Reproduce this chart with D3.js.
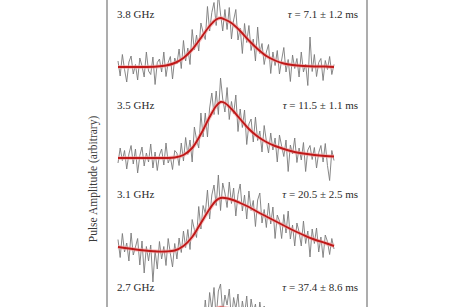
<html>
<head>
<script src="https://d3js.org/d3.v7.min.js"></script>
<style>
  body { margin: 0; background: #fff; }
  text { font-family: "Liberation Serif", "DejaVu Serif", serif; }
</style>
</head>
<body>
<script>
// panel labels
var freqs = ["3.8 GHz", "3.5 GHz", "3.1 GHz", "2.7 GHz"]
var tauVals = ["7.1 \u00b1 1.2", "11.5 \u00b1 1.1", "20.5 \u00b1 2.5", "37.4 \u00b1 8.6"]

// measured pulse amplitude, one sample per ms (0..99)
var sig38 = [0.12,-0.18,0.25,-0.05,-0.30,0.10,0.22,-0.14,0.05,-0.26,
  0.18,0.02,-0.20,0.30,-0.08,-0.15,0.20,-0.35,0.09,0.16,
  -0.10,0.30,-0.19,0.09,0.21,-0.24,0.18,0.06,0.36,-0.03,
  0.53,0.12,0.38,0.05,0.75,0.34,0.64,0.32,0.88,0.69,
  0.55,1.21,0.72,1.09,1.29,0.83,1.47,1.06,0.72,1.15,
  0.75,1.19,0.56,0.94,1.15,0.54,0.78,0.27,0.87,0.49,
  0.83,0.33,0.56,0.12,0.80,0.27,0.47,0.05,0.30,0.45,
  -0.13,0.30,0.03,0.33,-0.14,0.14,0.39,-0.10,0.15,-0.29,
  0.24,-0.03,0.17,-0.20,0.30,-0.10,0.06,-0.37,0.60,-0.09,
  0.25,-0.19,0.09,0.17,-0.27,0.13,-0.05,0.21,-0.15,0.05]
var sig35 = [-0.10,0.20,-0.05,0.15,-0.22,0.08,0.25,-0.12,0.18,-0.30,
  0.05,0.22,-0.16,0.10,-0.08,0.28,-0.20,0.12,-0.25,0.06,
  0.18,-0.14,0.30,-0.10,0.02,-0.23,0.15,0.10,-0.15,0.30,
  -0.06,0.41,0.07,0.36,-0.08,0.62,0.37,0.20,0.90,0.42,
  0.90,0.42,1.00,1.30,0.87,1.34,0.87,1.60,1.18,0.92,
  1.41,0.77,1.13,0.88,1.26,0.53,0.98,0.61,0.96,0.27,
  0.68,0.78,0.32,0.82,0.35,0.54,0.12,0.65,0.34,0.10,
  0.50,0.16,0.40,-0.08,0.46,0.24,0.03,0.36,-0.27,0.26,
  0.08,0.40,-0.09,0.20,-0.04,0.31,-0.27,0.16,0.25,-0.03,
  0.21,-0.20,0.11,0.25,-0.08,0.29,-0.15,-0.45,0.15,-0.05]
var sig31 = [0.15,-0.21,0.27,-0.10,0.08,-0.28,0.28,-0.16,0.00,0.17,
  -0.36,0.12,-0.52,0.01,-0.28,0.04,-0.70,-0.07,-0.44,0.11,
  -0.24,0.01,-0.37,0.17,-0.13,-0.40,0.07,-0.24,0.18,-0.11,
  0.32,-0.01,0.35,-0.05,0.55,0.35,0.19,0.81,0.36,0.83,
  0.67,1.14,0.56,1.04,1.24,0.83,1.44,0.73,1.28,1.08,
  0.79,1.30,0.87,1.18,0.62,1.05,1.26,0.72,1.04,0.56,
  1.12,0.73,0.93,0.41,0.94,1.08,0.48,0.75,0.39,0.88,
  0.46,0.80,0.17,0.64,0.52,0.17,0.65,0.28,0.72,0.16,
  0.44,0.02,0.48,0.30,0.02,0.52,0.07,0.32,-0.20,0.36,
  0.07,0.38,-0.10,0.20,-0.21,0.24,0.11,-0.15,0.17,-0.04]
var sig27 = [0.10,-0.15,0.22,-0.08,0.05,-0.25,0.18,-0.10,0.28,-0.20,
  0.12,-0.05,0.20,-0.30,0.08,0.15,-0.18,0.25,-0.12,0.06,
  -0.22,0.18,0.02,-0.15,0.24,-0.08,0.14,-0.26,0.20,-0.04,
  0.16,-0.12,0.30,0.02,0.25,-0.05,0.38,0.10,0.52,0.22,
  0.80,0.35,0.95,0.60,1.05,0.45,0.98,1.12,0.55,0.90,
  0.70,1.02,0.40,0.85,0.62,0.92,0.35,0.78,0.50,0.88,
  0.30,0.82,0.55,0.72,0.28,0.76,0.42,0.68,0.20,0.60,
  0.35,0.55,0.10,0.62,0.25,0.48,0.05,0.58,0.30,0.15,
  0.50,0.12,0.45,0.28,0.05,0.52,0.20,0.40,0.02,0.45,
  0.18,0.35,-0.05,0.42,0.15,0.30,0.00,0.38,0.12,0.25]

// fitted curves, sampled at fitT (ms)
var fitT  = [0,10,18,22,26,30,34,38,42,45,47,49,52,56,60,64,68,72,76,80,85,90,95,99]
var fit38 = [0,0,0.01,0.03,0.08,0.18,0.35,0.58,0.82,0.95,0.98,0.95,0.88,0.72,0.53,0.36,0.22,0.13,0.07,0.04,0.02,0.01,0.01,0]
var fit35 = [0,0,0,0,0.01,0.06,0.20,0.48,0.82,1.04,1.12,1.10,0.98,0.78,0.58,0.43,0.32,0.24,0.18,0.13,0.09,0.06,0.04,0.03]
var fit31 = [0,-0.06,-0.09,-0.09,-0.07,0.02,0.20,0.48,0.76,0.93,0.98,0.98,0.95,0.88,0.80,0.70,0.61,0.52,0.43,0.34,0.24,0.15,0.08,0.02]
var fit27 = [0,0,0,0,0,0,0.10,0.30,0.53,0.63,0.65,0.64,0.62,0.59,0.56,0.52,0.49,0.46,0.43,0.40,0.36,0.33,0.30,0.28]

var signals = [sig38, sig35, sig31, sig27]
var fits = [fit38, fit35, fit31, fit27]

var W = 460, H = 307
var svg = d3.select("body").append("svg")
  .attr("width", W)
  .attr("height", H)

var x = d3.scaleLinear().domain([0, 99]).range([118, 334])
var bases = [67, 158, 247, 340]   // pixel baseline for each panel
var unit = 50                     // pixels per amplitude unit

var gray = d3.line().x(function(d, i) { return x(i) })
var red = d3.line().curve(d3.curveCatmullRom.alpha(0.5))

// frame
svg.append("line").attr("x1", 107).attr("x2", 107).attr("y1", 0).attr("y2", H)
  .attr("stroke", "#8a8a8a").attr("stroke-width", 1.4)
svg.append("line").attr("x1", 367).attr("x2", 367).attr("y1", 0).attr("y2", H)
  .attr("stroke", "#8a8a8a").attr("stroke-width", 1.4)

signals.forEach(function(s, k) {
  var y = d3.scaleLinear().domain([0, 1]).range([bases[k], bases[k] - unit])
  var g = svg.append("g")

  g.append("path")
    .attr("d", gray.y(function(d) { return y(d) })(s))
    .attr("fill", "none")
    .attr("stroke", "#7a7a7a")
    .attr("stroke-width", 0.9)

  var pts = fitT.map(function(t, i) { return [x(t), y(fits[k][i])] })
  g.append("path")
    .attr("d", red(pts))
    .attr("fill", "none")
    .attr("stroke", "#f2a0a0")
    .attr("stroke-opacity", 0.6)
    .attr("stroke-width", 4)
  g.append("path")
    .attr("d", red(pts))
    .attr("fill", "none")
    .attr("stroke", "#c01818")
    .attr("stroke-width", 1.9)

  var ty = bases[k] - 49
  g.append("text")
    .attr("x", 117).attr("y", ty)
    .attr("font-size", 11).attr("fill", "#2a2a2a")
    .text(freqs[k])

  var tt = g.append("text")
    .attr("x", 358).attr("y", ty)
    .attr("text-anchor", "end")
    .attr("font-size", 11).attr("fill", "#2a2a2a")
  tt.append("tspan").attr("font-style", "italic").text("\u03c4")
  tt.append("tspan").text(" = " + tauVals[k] + " ms")
})

svg.append("text")
  .attr("transform", "translate(97,179) rotate(-90)")
  .attr("text-anchor", "middle")
  .attr("font-size", 11.5).attr("fill", "#3a3a3a")
  .text("Pulse Amplitude (arbitrary)")
</script>
</body>
</html>
